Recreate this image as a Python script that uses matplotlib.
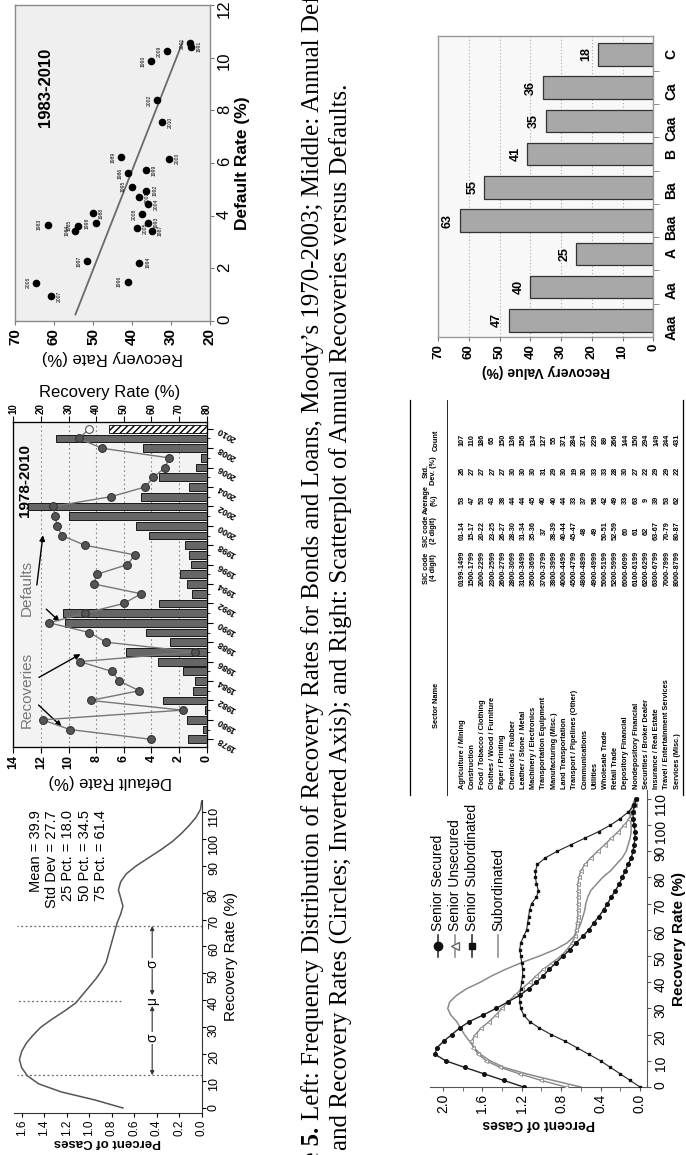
import numpy as np
import matplotlib
matplotlib.use('Agg')
import matplotlib.pyplot as plt

plt.rcParams['font.family'] = ['Liberation Sans', 'DejaVu Sans']

W, H = 686, 1155

# ---------------- data ----------------
# Right (upright): scatter of annual recoveries vs defaults, 1983-2010
sc_years = [2006, 2007, 1983, 1984, 1985, 1997, 1998, 1988, 1989, 1986, 1995, 2003, 1996, 2005,
            1994, 2008, 1992, 1993, 1987, 1999, 1990, 2002, 2010, 2000, 2009, 2001, 1991, 2004]
sc_recovery = [64.5, 60.7, 61.6, 54.6, 53.9, 51.5, 49.3, 50.0, 42.8, 40.9, 40.1, 38.3, 41.1, 38.75,
               38.1, 37.4, 36.3, 35.9, 34.8, 36.4, 35.1, 33.5, 32.4, 30.5, 30.9, 25.1, 24.9, 36.0]
sc_default = [1.46, 0.95, 3.66, 3.43, 3.62, 2.26, 3.72, 4.09, 6.22, 5.61, 5.10, 4.70, 1.49, 3.53,
              2.22, 4.06, 4.95, 3.74, 3.43, 5.74, 9.87, 8.38, 7.55, 6.16, 10.26, 10.54, 10.41, 4.44]
sc_label_side = [-1, 1, -1, -1, -1, -1, -1, 1, -1, -1, -1, 1, -1, 1,
                 1, -1, 1, 1, 1, 1, -1, -1, 1, 1, -1, -1, 1, 1]
trend_default = [0.25, 10.6]
trend_recovery = [54.5, 27.0]

# Middle: annual default rates (bars) and recovery rates (circles)
bar_years = [1978, 1979, 1980, 1981, 1982, 1983, 1984, 1985, 1986, 1987, 1988, 1989, 1990, 1991,
             1992, 1993, 1994, 1995, 1996, 1997, 1998, 1999, 2000, 2001, 2002, 2003, 2004, 2005,
             2006, 2007, 2008, 2009]
default_rate = [1.35, 0.25, 1.46, 0.15, 3.17, 1.02, 0.86, 1.71, 3.54, 5.85, 2.68, 4.39, 10.24, 10.37,
                3.42, 1.10, 1.42, 1.95, 1.17, 1.27, 1.59, 4.20, 5.12, 9.95, 12.93, 4.75, 1.27, 3.42,
                0.78, 0.44, 4.64, 10.93]
est_year = [2010]
est_default = [7.07]
rec_years = bar_years + est_year
rec_rate = [59.7, 30.5, 20.6, 71.3, 38.0, 55.6, 48.4, 45.6, 34.1, 75.8, 43.6, 37.5, 23.0, 35.9,
            50.1, 56.2, 39.2, 40.2, 51.3, 54.0, 35.9, 27.5, 25.9, 25.1, 24.5, 45.3, 57.7, 60.7,
            64.9, 66.5, 42.0, 33.8, 37.5]

# Left: frequency distribution of recovery rates
fd_rec = [0, 3, 6, 9, 12, 15, 18, 21, 24, 27, 30, 33, 36, 39, 42, 45, 48, 51, 54, 57, 60, 63, 66,
          69, 72, 75, 78, 81, 84, 87, 90, 93, 96, 99, 102, 105, 108, 111, 114]
fd_pct = [0.70, 0.95, 1.25, 1.45, 1.55, 1.60, 1.62, 1.60, 1.56, 1.50, 1.43, 1.33, 1.22, 1.12, 1.06,
          1.00, 0.94, 0.89, 0.85, 0.83, 0.81, 0.79, 0.77, 0.75, 0.72, 0.70, 0.72, 0.74, 0.72, 0.67,
          0.58, 0.47, 0.36, 0.26, 0.18, 0.11, 0.05, 0.01, 0.00]
fd_mean, fd_sd = 39.9, 27.7
fd_p25, fd_p50, fd_p75 = 18.0, 34.5, 61.4

# Recovery value by rating
ratings = ['Aaa', 'Aa', 'A', 'Baa', 'Ba', 'B', 'Caa', 'Ca', 'C']
rating_recovery = [47, 40, 25, 63, 55, 41, 35, 36, 18]

# Distributions by seniority
lc_rec = [0, 2.5, 5, 7.5, 10, 12.5, 15, 17.5, 20, 22.5, 25, 27.5, 30, 32.5, 35, 37.5, 40, 42.5,
          45, 47.5, 50, 52.5, 55, 57.5, 60, 62.5, 65, 67.5, 70, 72.5, 75, 77.5, 80, 82.5, 85,
          87.5, 90, 92.5, 95, 97.5, 100, 102.5, 105, 107.5, 110]
senior_secured = [1.18, 1.38, 1.58, 1.78, 1.97, 2.08, 2.06, 1.99, 1.91, 1.83, 1.73, 1.59, 1.46,
                  1.34, 1.22, 1.13, 1.05, 0.98, 0.92, 0.85, 0.78, 0.71, 0.65, 0.58, 0.52, 0.47,
                  0.42, 0.37, 0.33, 0.29, 0.25, 0.21, 0.18, 0.15, 0.12, 0.09, 0.07, 0.06, 0.05,
                  0.05, 0.06, 0.07, 0.07, 0.06, 0.04]
senior_unsecured = [0.75, 1.00, 1.22, 1.42, 1.56, 1.64, 1.69, 1.71, 1.67, 1.61, 1.53, 1.46, 1.40,
                    1.34, 1.27, 1.20, 1.12, 1.05, 0.98, 0.89, 0.80, 0.74, 0.69, 0.66, 0.65, 0.64,
                    0.63, 0.63, 0.63, 0.63, 0.63, 0.63, 0.62, 0.60, 0.56, 0.50, 0.43, 0.36, 0.29,
                    0.22, 0.16, 0.11, 0.07, 0.05, 0.04]
senior_subordinated = [0.00, 0.10, 0.20, 0.30, 0.40, 0.52, 0.64, 0.76, 0.90, 1.02, 1.12, 1.18,
                       1.21, 1.22, 1.22, 1.21, 1.20, 1.19, 1.19, 1.20, 1.21, 1.22, 1.21, 1.18,
                       1.15, 1.14, 1.13, 1.12, 1.10, 1.05, 1.03, 1.05, 1.06, 1.06, 1.04, 0.96,
                       0.84, 0.70, 0.56, 0.42, 0.30, 0.20, 0.12, 0.06, 0.03]
subordinated = [0.60, 0.88, 1.15, 1.38, 1.52, 1.62, 1.68, 1.73, 1.78, 1.82, 1.86, 1.92, 1.95,
                1.93, 1.86, 1.76, 1.62, 1.50, 1.36, 1.20, 1.02, 0.86, 0.74, 0.67, 0.63, 0.60,
                0.58, 0.56, 0.55, 0.53, 0.50, 0.44, 0.38, 0.30, 0.24, 0.18, 0.14, 0.12, 0.10,
                0.09, 0.09, 0.10, 0.10, 0.08, 0.05]

# Table
tbl_sector = ['Agriculture / Mining', 'Construction', 'Food / Tobacco / Clothing',
              'Clothes / Wood / Furniture', 'Paper / Printing', 'Chemicals / Rubber',
              'Leather / Stone / Metal', 'Machinery / Electronics', 'Transportation Equipment',
              'Manufacturing (Misc.)', 'Land Transportation', 'Transport / Pipelines (Other)',
              'Communications', 'Utilities', 'Wholesale Trade', 'Retail Trade',
              'Depository Financial', 'Nondepository Financial', 'Securities / Broker Dealer',
              'Insurance / Real Estate', 'Travel / Entertainment Services', 'Services (Misc.)']
tbl_sic4 = ['0199-1499', '1500-1799', '2000-2299', '2300-2599', '2600-2799', '2800-3099',
            '3100-3499', '3500-3699', '3700-3799', '3800-3999', '4000-4499', '4500-4799',
            '4800-4899', '4900-4999', '5000-5199', '5200-5999', '6000-6099', '6100-6199',
            '6200-6299', '6300-6799', '7000-7999', '8000-8799']
tbl_sic2 = ['01-14', '15-17', '20-22', '23-25', '26-27', '28-30', '31-34', '35-36', '37', '38-39',
            '40-44', '45-47', '48', '49', '50-51', '52-59', '60', '61', '62', '63-67', '70-79', '80-87']
tbl_avg = [53, 47, 53, 43, 38, 44, 44, 45, 40, 40, 44, 33, 37, 58, 42, 49, 33, 63, 9, 39, 53, 62]
tbl_std = [26, 27, 27, 27, 27, 30, 30, 30, 31, 29, 30, 19, 30, 33, 33, 28, 30, 27, 22, 29, 29, 22]
tbl_count = [107, 110, 186, 65, 150, 136, 156, 134, 127, 55, 371, 284, 371, 229, 89, 266, 144,
             150, 294, 149, 244, 431]

caption_line1 = ('Left: Frequency Distribution of Recovery Rates for Bonds and Loans, '
                 'Moody\u2019s 1970-2003; Middle: Annual Default')
caption_line2 = ('and Recovery Rates (Circles; Inverted Axis); and Right: Scatterplot of Annual '
                 'Recoveries versus Defaults.')

# ---------------- figure ----------------
fig = plt.figure(figsize=(W / 100, H / 100), dpi=100)


def rect(x0, y0, x1, y1):
    return [x0 / W, 1 - y1 / H, (x1 - x0) / W, (y1 - y0) / H]


def spine_color(ax, c, lw=0.8):
    for s in ax.spines.values():
        s.set_color(c)
        s.set_linewidth(lw)


# ---- scatter ----
ax1 = fig.add_axes(rect(15, 5, 210, 321))
ax1.set_facecolor('#efefef')
spine_color(ax1, '#8a8a8a', 1.0)
ax1.plot(trend_recovery, trend_default, color='#6a6a6a', lw=1.3, zorder=2)
ax1.scatter(sc_recovery, sc_default, s=20, color='black', zorder=3)
for yr, r, d, side in zip(sc_years, sc_recovery, sc_default, sc_label_side):
    ax1.annotate(str(yr), (r, d), xytext=(6 * side, 0), textcoords='offset points', rotation=90,
                 ha='center', va='center', fontsize=3.6)
ax1.set_xlim(70, 20)
ax1.set_ylim(0, 12)
ax1.set_xticks([20, 30, 40, 50, 60, 70], ['20', '30', '40', '50', '60', '70'],
               rotation=90, fontsize=11, fontweight='bold')
ax1.yaxis.tick_right()
ax1.set_yticks([0, 2, 4, 6, 8, 10, 12], ['0', '2', '4', '6', '8', '10', '12'],
               rotation=90, fontsize=12)
ax1.tick_params(length=3, color='#777', pad=2)
ax1.yaxis.set_label_position('right')
ax1.set_ylabel('Default Rate (%)', rotation=90, fontsize=12.5, fontweight='bold', labelpad=2)
ax1.set_xlabel('Recovery Rate (%)', rotation=180, fontsize=12, labelpad=4)
ax1.text(0.155, 0.74, '1983-2010', transform=ax1.transAxes, rotation=90, fontsize=12,
         fontweight='bold', ha='center', va='center')

# ---- middle: defaults (bars) & recoveries (circles) ----
ax2 = fig.add_axes(rect(13.3, 422, 206.7, 747))
ax2.set_facecolor('#f3f3f3')
spine_color(ax2, '#777', 1.0)
ax2.set_axisbelow(True)
ax2.xaxis.grid(True, linestyle=(0, (1.5, 2.5)), color='#888', lw=0.8)
ax2.barh(bar_years, default_rate, height=0.8, color='#666666', edgecolor='black', lw=0.6, zorder=2)
ax2.barh(est_year, est_default, height=0.8, color='white', edgecolor='black', lw=0.6,
         hatch='/////', zorder=2)
ax2.set_xlim(14, 0)
ax2.set_ylim(1977.2, 2010.7)
ax2.set_xticks(list(range(0, 15, 2)), [str(v) for v in range(0, 15, 2)], rotation=90,
               fontsize=9, fontweight='bold')
ax2.yaxis.tick_right()
ax2.set_yticks(list(range(1978, 2011, 2)), [str(v) for v in range(1978, 2011, 2)],
               rotation=150, rotation_mode='anchor', ha='right', va='center', fontsize=6.5,
               fontweight='bold')
ax2.set_yticks(bar_years + est_year, minor=True)
ax2.tick_params(axis='y', which='major', length=4, pad=4)
ax2.tick_params(axis='y', which='minor', length=2.5)
ax2.tick_params(axis='x', length=4, pad=2)
ax2.set_xlabel('Default Rate (%)', rotation=180, fontsize=12, labelpad=3)
ax3 = ax2.twiny()
ax3.set_xlim(10, 80)
ax3.set_xticks(list(range(10, 81, 10)), [str(v) for v in range(10, 81, 10)], rotation=90,
               fontsize=7, fontweight='bold')
ax3.tick_params(axis='x', length=4, pad=2)
ax3.set_xlabel('Recovery Rate (%)', fontsize=12, labelpad=4)
ax3.plot(rec_rate, rec_years, color='#777', lw=1.0, zorder=3)
ax3.plot(rec_rate[:-1], rec_years[:-1], 'o', ms=5.6, mfc='#555', mec='#333', mew=0.8, zorder=4)
ax3.plot(rec_rate[-1:], rec_years[-1:], 'o', ms=5.6, mfc='white', mec='#555', mew=0.8, zorder=4)
ax2.text(0.06, 0.82, '1978-2010', transform=ax2.transAxes, rotation=90, fontsize=11,
         fontweight='bold', ha='center', va='center')
ax2.text(0.07, 0.49, 'Defaults', transform=ax2.transAxes, rotation=90, fontsize=11,
         color='#777', ha='center', va='center')
ax2.text(0.07, 0.175, 'Recoveries', transform=ax2.transAxes, rotation=90, fontsize=11,
         color='#777', ha='center', va='center')
arrow_kw = dict(arrowstyle='-|>', color='black', lw=1.0, mutation_scale=8)
for start, end in [((0.12, 0.49), (0.155, 0.66)), ((0.16, 0.43), (0.25, 0.38)),
                   ((0.12, 0.21), (0.36, 0.29)), ((0.12, 0.135), (0.26, 0.057))]:
    ax2.annotate('', xy=end, xytext=start, xycoords='axes fraction',
                 textcoords='axes fraction', arrowprops=arrow_kw, zorder=5)

# ---- frequency distribution ----
ax4 = fig.add_axes(rect(14, 800, 201.7, 1113))
ax4.spines['top'].set_visible(False)
ax4.spines['left'].set_visible(False)
for s in ('bottom', 'right'):
    ax4.spines[s].set_color('#333')
ax4.plot(fd_pct, fd_rec, color='#555', lw=1.1)
ax4.set_xlim(1.668, 0)
ax4.set_ylim(-1.85, 114.4)
pct_ticks = [0.0, 0.2, 0.4, 0.6, 0.8, 1.0, 1.2, 1.4, 1.6]
ax4.set_xticks(pct_ticks, ['%.1f' % v for v in pct_ticks], rotation=90, fontsize=8.5)
ax4.yaxis.tick_right()
ax4.set_yticks(list(range(0, 111, 10)), [str(v) for v in range(0, 111, 10)], rotation=90,
               fontsize=9)
ax4.tick_params(length=3, pad=1.5)
ax4.set_xlabel('Percent of Cases', rotation=180, fontsize=9.5, fontweight='bold', labelpad=0.5)
ax4.yaxis.set_label_position('right')
ax4.set_ylabel('Recovery Rate (%)', rotation=90, fontsize=11, labelpad=3)
ax4.hlines([fd_mean - fd_sd, fd_mean + fd_sd], 0.0, 1.64, linestyles=(0, (1.5, 2)),
           color='#666', lw=0.9)
ax4.hlines([fd_mean], 0.72, 1.64, linestyles=(0, (1.5, 2)), color='#666', lw=0.9)
ak = dict(arrowstyle='<|-|>', color='#333', lw=0.8, mutation_scale=6, shrinkA=0, shrinkB=0)
ax4.annotate('', xy=(0.44, fd_mean - fd_sd), xytext=(0.44, fd_mean - 2), arrowprops=ak)
ax4.annotate('', xy=(0.44, fd_mean + fd_sd), xytext=(0.44, fd_mean + 2), arrowprops=ak)
bb = dict(facecolor='white', edgecolor='none', pad=1)
ax4.text(0.44, fd_mean - fd_sd / 2, '\u03c3', rotation=90, ha='center', va='center',
         fontsize=10, bbox=bb)
ax4.text(0.44, fd_mean + fd_sd / 2, '\u03c3', rotation=90, ha='center', va='center',
         fontsize=10, bbox=bb)
ax4.text(0.44, fd_mean, '\u03bc', rotation=90, ha='center', va='center', fontsize=10, bbox=bb)
stats = ('Mean = %.1f\nStd Dev = %.1f\n25 Pct. = %.1f\n50 Pct. = %.1f\n75 Pct. = %.1f'
         % (fd_mean, fd_sd, fd_p25, fd_p50, fd_p75))
ax4.text(0.29, 0.968, stats, transform=ax4.transAxes, rotation=90, ha='center', va='top',
         multialignment='right', fontsize=10.5)

# ---- recovery value by rating ----
ax5 = fig.add_axes(rect(438, 36, 653.3, 337))
ax5.set_facecolor('#f8f8f8')
spine_color(ax5, '#999', 1.0)
ax5.set_axisbelow(True)
ax5.xaxis.grid(True, linestyle=(0, (1, 2)), color='#aaa', lw=0.8)
ypos = list(range(len(ratings)))
ax5.barh(ypos, rating_recovery, height=0.68, color='#a8a8a8', edgecolor='#333', lw=0.9)
for y, v in zip(ypos, rating_recovery):
    ax5.annotate(str(v), (v, y), xytext=(-8.5, 0), textcoords='offset points', rotation=90,
                 ha='center', va='center', fontsize=9, fontweight='bold')
ax5.set_xlim(70, 0)
ax5.set_ylim(-0.5, 8.55)
ax5.set_xticks(list(range(0, 71, 10)), [str(v) for v in range(0, 71, 10)], rotation=90,
               fontsize=9.5, fontweight='bold')
ax5.yaxis.tick_right()
ax5.set_yticks(ypos, ratings, rotation=90, fontsize=10, fontweight='bold')
ax5.set_yticks([p + 0.5 for p in ypos[:-1]], minor=True)
ax5.tick_params(axis='y', which='major', length=0, pad=8)
ax5.tick_params(axis='y', which='minor', length=4, color='#777')
ax5.tick_params(axis='x', length=3, color='#777', pad=2)
ax5.set_xlabel('Recovery Value (%)', rotation=180, fontsize=10, fontweight='bold', labelpad=4)

# ---- distributions by seniority ----
ax6 = fig.add_axes(rect(430, 790, 646.7, 1087))
ax6.spines['top'].set_visible(False)
ax6.spines['left'].set_visible(False)
for s in ('bottom', 'right'):
    ax6.spines[s].set_color('#555')
ax6.plot(subordinated, lc_rec, color='#8a8a8a', lw=1.1, zorder=2)
ax6.plot(senior_unsecured, lc_rec, color='#888', lw=1.0, marker='<', ms=3, mfc='white',
         mec='#888', mew=0.6, zorder=3)
ax6.plot(senior_subordinated, lc_rec, color='#222', lw=0.8, marker='s', ms=2, mfc='#111',
         mec='#111', zorder=4)
ax6.plot(senior_secured, lc_rec, color='#222', lw=1.0, marker='o', ms=2.6, mfc='#111',
         mec='#111', zorder=5)
ax6.set_xlim(2.13, -0.068)
ax6.set_ylim(0, 113.4)
lct = [0.0, 0.4, 0.8, 1.2, 1.6, 2.0]
ax6.set_xticks(lct, ['%.1f' % v for v in lct], rotation=90, fontsize=10)
ax6.set_xticks([0.2, 0.6, 1.0, 1.4, 1.8], minor=True)
ax6.yaxis.tick_right()
ax6.set_yticks(list(range(0, 111, 10)), [str(v) for v in range(0, 111, 10)], rotation=90,
               fontsize=10)
ax6.tick_params(which='both', length=3, pad=2, color='#555')
ax6.set_xlabel('Percent of Cases', rotation=180, fontsize=10, fontweight='bold', labelpad=3)
ax6.yaxis.set_label_position('right')
ax6.set_ylabel('Recovery Rate (%)', rotation=90, fontsize=11, fontweight='bold', labelpad=3)

# ---- overlay (pixel coordinates) for caption, table, legend ----
ov = fig.add_axes([0, 0, 1, 1])
ov.set_xlim(0, W)
ov.set_ylim(H, 0)
ov.axis('off')

leg = [('Senior Secured', 438, '#222', 'o', 6, '#111', '#111'),
       ('Senior Unsecured', 455, '#888', '<', 6, 'white', '#666'),
       ('Senior Subordinated', 472, '#222', 's', 5, '#111', '#111'),
       ('Subordinated', 498, '#888', None, 0, None, None)]
for lab, lx, col, mk, ms, mfc, mec in leg:
    ov.plot([lx, lx], [957, 935], color=col, lw=1.1)
    if mk:
        ov.plot([lx], [946], linestyle='none', marker=mk, ms=ms, mfc=mfc, mec=mec)
    ov.text(lx, 931, lab, rotation=90, ha='center', va='bottom', fontsize=10)

# caption
serif = ['Liberation Serif', 'DejaVu Serif']
ov.text(313, 1127, 'Figure 5.', rotation=90, rotation_mode='anchor', ha='right', va='center',
        fontsize=18, fontweight='bold', family=serif)
ov.text(313, 1120, caption_line1, rotation=90, rotation_mode='anchor', ha='left', va='center',
        fontsize=18, family=serif)
ov.text(341, 1150, caption_line2, rotation=90, rotation_mode='anchor', ha='left', va='center',
        fontsize=18, family=serif)

# table
col_y = dict(count=440, std=471, avg=500, sic2=531, sic4=568, name=789)
row0, dx = 462, 10.24
ov.plot([410, 410], [400, 795], color='black', lw=0.9)
ov.plot([447, 447], [400, 795], color='black', lw=0.6)
ov.plot([683, 683], [400, 795], color='black', lw=0.9)
tfs = 5.3
hdr = dict(rotation=90, ha='center', va='center', fontsize=tfs, fontweight='bold',
           multialignment='center', linespacing=1.15)
ov.text(430, col_y['sic4'], 'SIC code\n(4 digit)', **hdr)
ov.text(430, col_y['sic2'], 'SIC code\n(2 digit)', **hdr)
ov.text(430, col_y['avg'], 'Average\n(%)', **hdr)
ov.text(430, col_y['std'], 'Std.\nDev. (%)', **hdr)
ov.text(436, col_y['count'], 'Count', **hdr)
ov.text(436, 705, 'Sector Name', **hdr)
for i in range(len(tbl_sector)):
    x = row0 + i * dx
    ov.text(x, col_y['name'], tbl_sector[i], rotation=90, rotation_mode='anchor', ha='left',
            va='center', fontsize=tfs, fontweight='bold')
    for key, val in (('sic4', tbl_sic4[i]), ('sic2', tbl_sic2[i]), ('avg', tbl_avg[i]),
                     ('std', tbl_std[i]), ('count', tbl_count[i])):
        ov.text(x, col_y[key], str(val), rotation=90, ha='center', va='center', fontsize=tfs,
                fontweight='bold')

fig.savefig('out.png', dpi=100)
